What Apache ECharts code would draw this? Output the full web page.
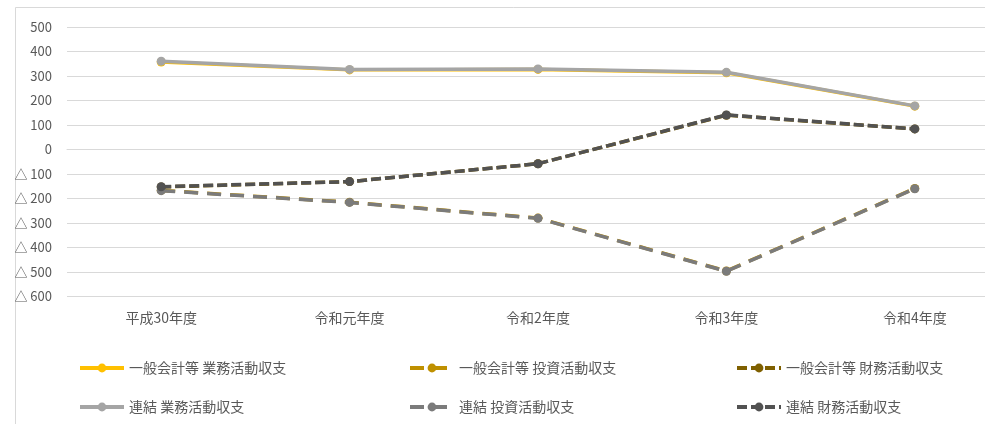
<!DOCTYPE html>
<html><head><meta charset="utf-8">
<script src="https://cdn.jsdelivr.net/npm/echarts@6/dist/echarts.min.js"></script>
<style>html,body{margin:0;padding:0;background:#fff;overflow:hidden}#c{width:1010px;height:424px}</style>
</head><body><div id="c"></div>
<script>
const categories = ['平成30年度', '令和元年度', '令和2年度', '令和3年度', '令和4年度'];
const seriesNames = ['一般会計等 業務活動収支', '一般会計等 投資活動収支', '一般会計等 財務活動収支', '連結 業務活動収支', '連結 投資活動収支', '連結 財務活動収支'];
const genOperating = [357, 325, 327, 313, 177];
const genInvesting = [-167, -215, -280, -496, -159];
const genFinancing = [-153, -131, -58, 140, 84];
const conOperating = [360, 327, 329, 315, 178];
const conInvesting = [-168, -216, -281, -497, -160];
const conFinancing = [-152, -131, -58, 141, 84];
const yTicks = { min: -600, max: 500, interval: 100 };

const colors = ['#FFC000', '#BF9000', '#7F6000', '#A5A5A5', '#7B7B7B', '#525252'];
const dashInvest = [14, 9];
const dashFinance = [10, 4];
const dataArr = [genOperating, genInvesting, genFinancing, conOperating, conInvesting, conFinancing];
const dashes = ['solid', dashInvest, dashFinance, 'solid', dashInvest, dashFinance];

const font = "'Noto Sans CJK JP', 'Noto Sans', sans-serif";
const series = dataArr.map((d, i) => ({
  name: seriesNames[i],
  type: 'line',
  data: d,
  z: 2 + i,
  symbol: 'circle',
  symbolSize: 9,
  showSymbol: true,
  color: colors[i],
  itemStyle: { color: colors[i] },
  lineStyle: { color: colors[i], width: 3.5, type: dashes[i], cap: 'butt' },
  emphasis: { disabled: true },
  animation: false
}));

const legendLeft = [73, 403, 730];
const legendTop = [355, 394];
const legends = seriesNames.map((n, i) => ({
  left: legendLeft[i % 3], top: legendTop[Math.floor(i / 3)],
  data: [n], itemWidth: 44, itemHeight: 11,
  selectedMode: false,
  lineStyle: { width: 4 },
  textStyle: { color: '#595959', fontSize: 14, lineHeight: 16, fontFamily: font }
}));

const chart = echarts.init(document.getElementById('c'));
chart.setOption({
  animation: false,
  backgroundColor: '#fff',
  graphic: [{
    type: 'rect', left: 13, top: 5, silent: true, z: -10,
    shape: { width: 1010, height: 440 },
    style: { fill: 'none', stroke: '#D9D9D9', lineWidth: 1 }
  }],
  grid: { left: 67, width: 942, top: 27, height: 269.5, containLabel: false },
  legend: legends,
  xAxis: {
    type: 'category', data: categories, boundaryGap: true,
    axisLine: { lineStyle: { color: '#D9D9D9', width: 1 } },
    axisTick: { show: false },
    axisLabel: { color: '#595959', fontSize: 14, margin: 14, fontFamily: font }
  },
  yAxis: {
    type: 'value', min: yTicks.min, max: yTicks.max, interval: yTicks.interval,
    axisLine: { show: false }, axisTick: { show: false },
    splitLine: { lineStyle: { color: '#D9D9D9', width: 1 } },
    axisLabel: {
      color: '#595959', fontSize: 13, margin: 15, fontFamily: font,
      formatter: v => v < 0 ? '△ ' + (-v) : String(v)
    }
  },
  series: series
});
</script></body></html>
